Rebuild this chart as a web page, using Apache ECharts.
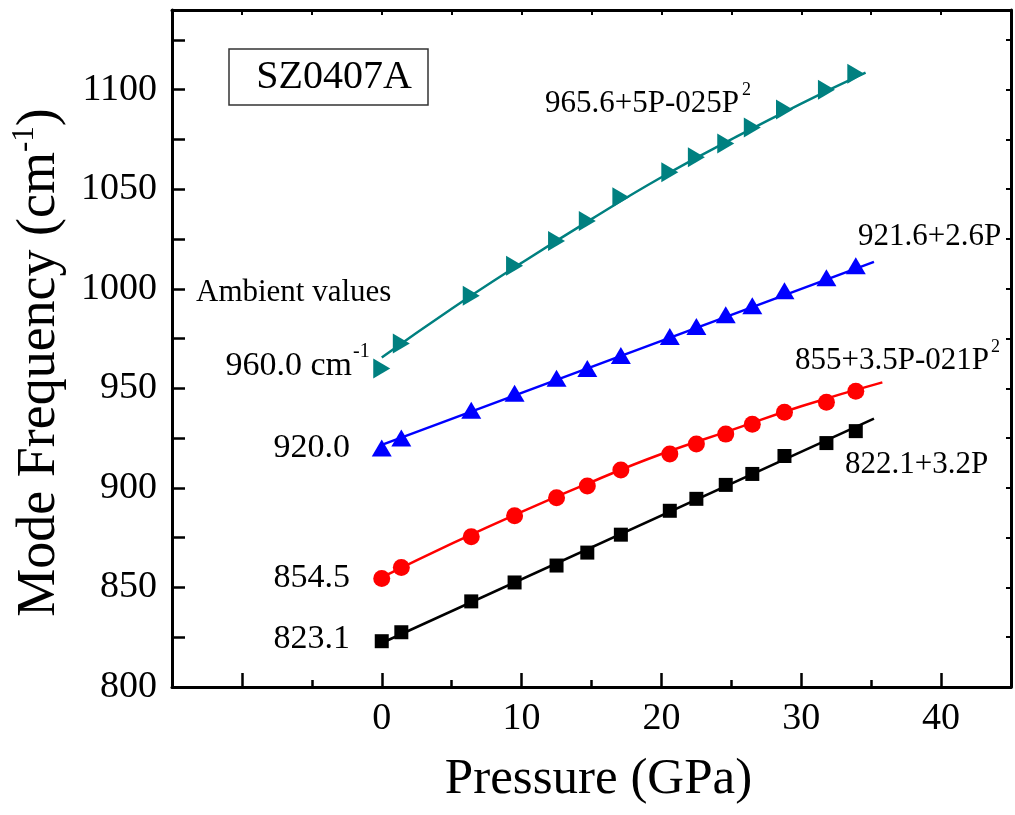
<!DOCTYPE html>
<html><head><meta charset="utf-8">
<script src="https://cdn.jsdelivr.net/npm/echarts@6/dist/echarts.min.js"></script>
<style>html,body{margin:0;padding:0;background:#fff}#c{width:1015px;height:815px}</style>
</head><body><div id="c"></div>
<script>
// ---- data ----
const pressure = [0, 1.4, 6.4, 9.5, 12.5, 14.7, 17.1, 20.6, 22.5, 24.6, 26.5, 28.8, 31.8, 33.9];
const modeA = [823, 827.5, 843, 852.5, 861, 867.5, 876.5, 888.5, 894.5, 901.5, 907, 916, 922.5, 928.5];   // black squares
const modeB = [854.5, 860, 875.5, 886, 895, 901, 909, 917, 922, 927, 932, 938, 943, 948.5];             // red circles
const modeC = [920, 925, 939, 947.5, 955, 960, 966.5, 976, 981, 987, 991.5, 999, 1005.5, 1011.5];        // blue triangles
const modeD = [960, 972.5, 996.5, 1011.5, 1024, 1034, 1046, 1058.5, 1066, 1073, 1081, 1090, 1100, 1108]; // teal triangles

// fitted curves as [P, frequency]
const fitA = [[0, 822.1], [35.2, 934.8]];
const fitB = [[0, 855], [5, 872], [10, 888], [15, 903], [20, 917], [25, 929], [30, 941], [35.8, 953]];
const fitC = [[0, 921.6], [35.2, 1013.5]];
const fitD = [[0, 965.5], [5, 990], [10, 1013], [15, 1035], [20, 1056], [25, 1075], [30, 1093], [34.6, 1108.5]];

// ticks / labels
const xMajorTicks = [-10, 0, 10, 20, 30, 40];
const xMinorTicks = [-5, 5, 15, 25, 35];
const xTopTicks = [-10, -5, 0, 5, 10, 15, 20, 25, 30, 35, 40];
const xLabels = [0, 10, 20, 30, 40];
const yTicks = [800, 825, 850, 875, 900, 925, 950, 975, 1000, 1025, 1050, 1075, 1100, 1125];
const yLabels = [800, 850, 900, 950, 1000, 1050, 1100];

const FONT = "'Liberation Serif', 'Times New Roman', serif";
const pts = (ys) => pressure.map((p, i) => [p, ys[i]]);
const plain = (v) => String(v);

const chart = echarts.init(document.getElementById('c'), null, {renderer: 'canvas'});

const axisLineStyle = {color: '#000', width: 3};
const option = {
  backgroundColor: '#fff',
  animation: false,
  grid: {left: 172, right: 4, top: 10, bottom: 128, outerBoundsMode: 'none'},
  xAxis: [
    {
      type: 'value', min: -15, max: 45, position: 'bottom',
      axisLine: {show: true, onZero: false, lineStyle: axisLineStyle},
      axisTick: {show: true, inside: true, length: 14, lineStyle: {color: '#000', width: 2.5}, customValues: xMajorTicks},
      axisLabel: {show: true, customValues: xLabels, formatter: plain, fontSize: 38, color: '#000', fontFamily: FONT, margin: 13},
      splitLine: {show: false},
      name: 'Pressure (GPa)', nameLocation: 'middle', nameGap: 67,
      nameTextStyle: {fontSize: 51, color: '#000', fontFamily: FONT, padding: [0, 0, 0, 14]}
    },
    {
      type: 'value', min: -15, max: 45, position: 'bottom',
      axisLine: {show: false, onZero: false},
      axisTick: {show: true, inside: true, length: 7, lineStyle: {color: '#000', width: 2.5}, customValues: xMinorTicks},
      axisLabel: {show: false}, splitLine: {show: false}
    },
    {
      type: 'value', min: -15, max: 45, position: 'top',
      axisLine: {show: true, onZero: false, lineStyle: axisLineStyle},
      axisTick: {show: true, inside: true, length: 5, lineStyle: {color: '#000', width: 2}, customValues: xTopTicks},
      axisLabel: {show: false}, splitLine: {show: false}
    }
  ],
  yAxis: [
    {
      type: 'value', min: 800, max: 1140, position: 'left',
      axisLine: {show: true, onZero: false, lineStyle: axisLineStyle},
      axisTick: {show: true, inside: true, length: 13, lineStyle: {color: '#000', width: 2.5}, customValues: yTicks},
      axisLabel: {show: true, customValues: yLabels, formatter: plain, fontSize: 38, color: '#000', fontFamily: FONT, margin: 15},
      splitLine: {show: false},
      name: '{a|Mode Frequency (cm}{s|-1}{a|)}', nameLocation: 'middle', nameGap: 100,
      nameTextStyle: {
        color: '#000', fontFamily: FONT, fontSize: 54, padding: [0, 28, 0, 0],
        rich: {
          a: {fontSize: 54, fontFamily: FONT, color: '#000', lineHeight: 58, verticalAlign: 'bottom'},
          s: {fontSize: 31, fontFamily: FONT, color: '#000', lineHeight: 58, verticalAlign: 'top', padding: [0, 0, 30, 0]}
        }
      }
    },
    {
      type: 'value', min: 800, max: 1140, position: 'right',
      axisLine: {show: true, onZero: false, lineStyle: axisLineStyle},
      axisTick: {show: true, inside: true, length: 5, lineStyle: {color: '#000', width: 2}, customValues: yTicks},
      axisLabel: {show: false}, splitLine: {show: false}
    }
  ],
  series: [
    {type: 'line', data: fitA, showSymbol: false, lineStyle: {color: '#000', width: 2.5}, z: 2, silent: true},
    {type: 'line', data: fitB, showSymbol: false, smooth: true, lineStyle: {color: '#ff0000', width: 2.5}, z: 2, silent: true},
    {type: 'line', data: fitC, showSymbol: false, lineStyle: {color: '#0000ff', width: 2.5}, z: 2, silent: true},
    {type: 'line', data: fitD, showSymbol: false, smooth: true, lineStyle: {color: '#008080', width: 2.5}, z: 2, silent: true},
    {type: 'scatter', data: pts(modeA), symbol: 'rect', symbolSize: 14, itemStyle: {color: '#000', opacity: 1}, z: 3},
    {type: 'scatter', data: pts(modeB), symbol: 'circle', symbolSize: 17, itemStyle: {color: '#ff0000', opacity: 1}, z: 3},
    {type: 'scatter', data: pts(modeC), symbol: 'triangle', symbolSize: [20, 17], itemStyle: {color: '#0000ff', opacity: 1}, z: 3},
    {type: 'scatter', data: pts(modeD), symbol: 'triangle', symbolSize: [20, 17], symbolRotate: -90, itemStyle: {color: '#008080', opacity: 1}, z: 3}
  ],
  graphic: [
    {type: 'rect', shape: {x: 229, y: 49, width: 199, height: 56}, style: {fill: '#fff', stroke: '#333', lineWidth: 1.5}, z: 10},
    {type: 'text', x: 334, y: 77, style: {text: 'SZ0407A', fontSize: 40, fontFamily: FONT, fill: '#000', align: 'center', verticalAlign: 'middle'}, z: 11},
    {type: 'text', x: 545, y: 104, style: {text: '965.6+5P-025P', fontSize: 31, fontFamily: FONT, fill: '#000', align: 'left', verticalAlign: 'middle'}, z: 11},
    {type: 'text', x: 742, y: 90, style: {text: '2', fontSize: 18, fontFamily: FONT, fill: '#000', align: 'left', verticalAlign: 'middle'}, z: 11},
    {type: 'text', x: 858, y: 237, style: {text: '921.6+2.6P', fontSize: 31, fontFamily: FONT, fill: '#000', align: 'left', verticalAlign: 'middle'}, z: 11},
    {type: 'text', x: 795, y: 361, style: {text: '855+3.5P-021P', fontSize: 31, fontFamily: FONT, fill: '#000', align: 'left', verticalAlign: 'middle'}, z: 11},
    {type: 'text', x: 991, y: 347, style: {text: '2', fontSize: 18, fontFamily: FONT, fill: '#000', align: 'left', verticalAlign: 'middle'}, z: 11},
    {type: 'text', x: 845, y: 465, style: {text: '822.1+3.2P', fontSize: 31, fontFamily: FONT, fill: '#000', align: 'left', verticalAlign: 'middle'}, z: 11},
    {type: 'text', x: 196, y: 293, style: {text: 'Ambient values', fontSize: 31, fontFamily: FONT, fill: '#000', align: 'left', verticalAlign: 'middle'}, z: 11},
    {type: 'text', x: 352, y: 366, style: {text: '960.0 cm', fontSize: 34, fontFamily: FONT, fill: '#000', align: 'right', verticalAlign: 'middle'}, z: 11},
    {type: 'text', x: 353, y: 352, style: {text: '-1', fontSize: 20, fontFamily: FONT, fill: '#000', align: 'left', verticalAlign: 'middle'}, z: 11},
    {type: 'text', x: 350, y: 448, style: {text: '920.0', fontSize: 34, fontFamily: FONT, fill: '#000', align: 'right', verticalAlign: 'middle'}, z: 11},
    {type: 'text', x: 350, y: 578, style: {text: '854.5', fontSize: 34, fontFamily: FONT, fill: '#000', align: 'right', verticalAlign: 'middle'}, z: 11},
    {type: 'text', x: 350, y: 639, style: {text: '823.1', fontSize: 34, fontFamily: FONT, fill: '#000', align: 'right', verticalAlign: 'middle'}, z: 11}
  ]
};
chart.setOption(option);
</script>
</body></html>
